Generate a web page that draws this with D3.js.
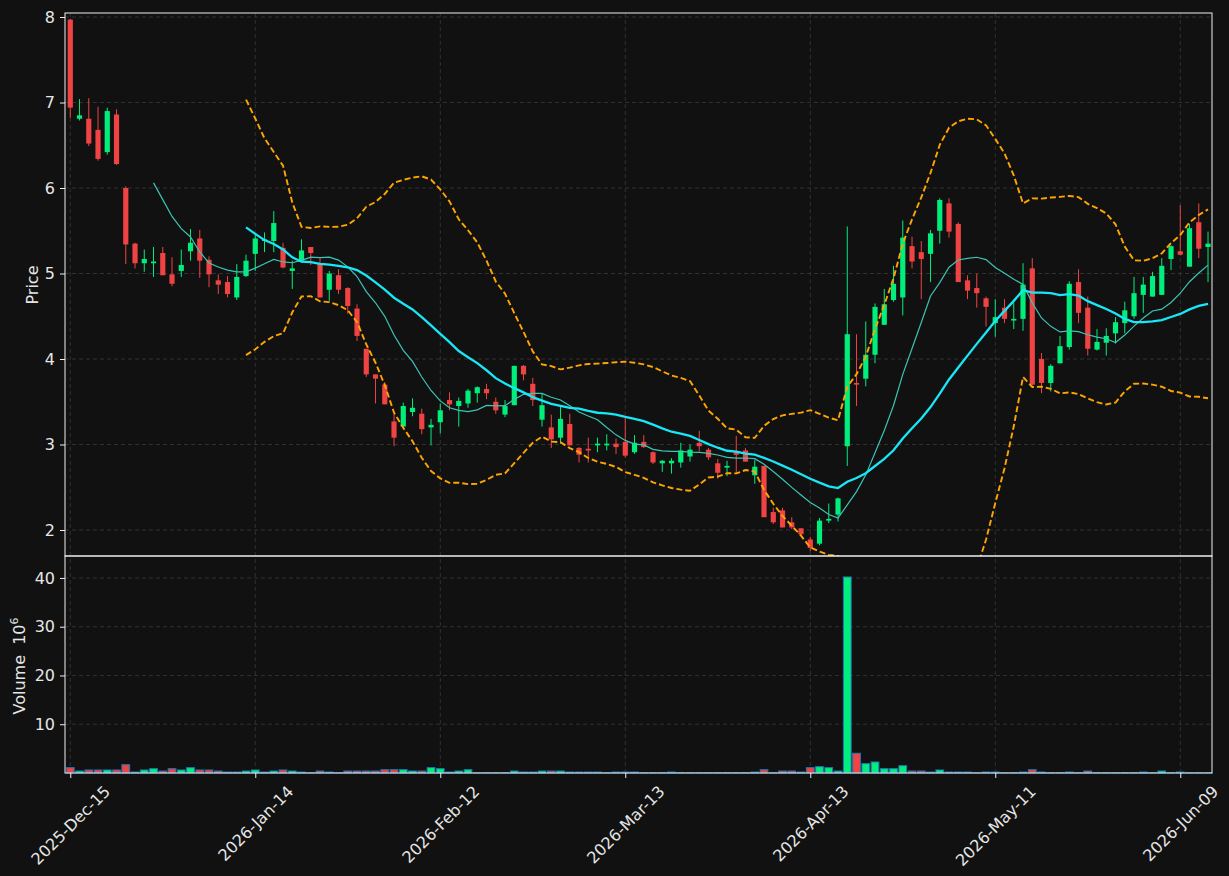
<!DOCTYPE html>
<html>
<head>
<meta charset="utf-8">
<script src="https://cdn.jsdelivr.net/npm/d3@7"></script>
<style>
  body { margin: 0; background: #111111; }
  text { font-family: "DejaVu Sans", sans-serif; fill: #e6e6e6; }
</style>
</head>
<body>
<svg id="chart"></svg>
<script>
// OHLC + volume (volume in millions), one entry per trading day
const opens = [7.97,6.81,6.81,6.68,6.42,6.86,6.00,5.35,5.12,5.12,5.24,4.99,5.03,5.26,5.41,5.16,4.92,4.90,4.72,4.97,
  5.23,5.38,5.38,5.30,5.03,5.15,5.31,5.11,4.81,4.98,4.83,4.59,4.12,3.82,3.70,3.27,3.21,3.38,3.36,3.20,
  3.26,3.52,3.45,3.48,3.60,3.65,3.50,3.35,3.46,3.92,3.71,3.29,3.20,3.08,3.24,2.96,2.95,2.99,2.99,3.01,
  3.03,2.91,3.03,2.91,2.78,2.78,2.79,2.86,3.02,2.94,2.78,2.73,2.91,2.93,2.64,2.75,2.21,2.23,2.09,2.02,
  1.89,1.84,2.11,2.18,2.98,3.72,3.77,4.05,4.40,4.69,4.72,5.32,5.25,5.23,5.50,5.82,5.58,4.92,4.83,4.71,
  4.42,4.60,4.45,4.47,5.06,4.00,3.72,3.95,4.14,4.90,4.60,4.11,4.19,4.30,4.42,4.50,4.75,4.73,4.75,5.17,
  5.26,5.08,5.60,5.31];
const highs = [7.98,7.04,7.05,6.95,6.94,6.92,6.02,5.36,5.28,5.31,5.31,5.19,5.28,5.52,5.51,5.20,4.99,4.97,5.11,5.22,
  5.47,5.48,5.73,5.36,5.15,5.40,5.31,5.18,5.03,5.05,4.84,4.64,4.12,3.82,3.73,3.36,3.49,3.54,3.42,3.30,
  3.48,3.61,3.55,3.65,3.68,3.71,3.55,3.52,3.92,3.93,3.78,3.60,3.35,3.44,3.36,2.97,3.08,3.08,3.12,3.07,
  3.31,3.11,3.11,2.92,2.82,2.84,3.02,3.00,3.16,2.96,2.83,2.81,3.10,2.96,2.82,2.75,2.26,2.26,2.15,2.02,
  1.92,2.14,2.31,2.38,5.55,4.29,4.44,4.65,4.82,5.09,5.62,5.43,5.38,5.51,5.88,5.88,5.60,4.98,5.00,4.73,
  4.70,4.70,4.66,5.12,5.18,4.07,3.94,4.27,4.91,5.05,4.73,4.35,4.36,4.49,4.67,4.96,4.96,5.02,5.18,5.33,
  5.80,5.58,5.82,5.49];
const lows = [6.82,6.79,6.49,6.32,6.39,6.27,5.11,5.06,5.02,4.96,4.98,4.85,4.96,5.15,4.95,4.84,4.76,4.72,4.69,4.96,
  5.03,5.25,5.25,5.06,4.82,5.13,5.10,4.72,4.68,4.76,4.53,4.21,3.79,3.48,3.47,2.98,3.20,3.33,3.12,2.99,
  3.13,3.40,3.21,3.43,3.49,3.53,3.36,3.32,3.46,3.75,3.45,3.21,2.96,3.01,2.99,2.79,2.79,2.91,2.93,2.89,
  2.85,2.89,2.96,2.77,2.68,2.66,2.73,2.80,2.92,2.82,2.60,2.63,2.67,2.80,2.54,2.15,2.07,2.03,2.01,1.95,
  1.75,1.82,2.08,2.10,2.75,3.45,3.68,3.95,4.40,4.67,4.51,5.06,4.70,4.90,5.35,5.42,4.90,4.70,4.60,4.38,
  4.26,4.42,4.35,4.33,3.69,3.60,3.62,3.95,4.11,4.42,4.04,4.10,4.04,4.18,4.30,4.47,4.54,4.73,4.75,5.04,
  5.21,5.08,5.18,4.90];
const closes = [6.94,6.85,6.52,6.34,6.90,6.28,5.34,5.12,5.17,5.14,4.98,4.88,5.10,5.36,5.15,4.99,4.87,4.76,4.96,5.15,
  5.41,5.40,5.59,5.07,5.06,5.27,5.24,4.72,5.00,4.81,4.62,4.27,3.82,3.77,3.47,3.08,3.45,3.43,3.18,3.23,
  3.40,3.47,3.51,3.63,3.67,3.60,3.40,3.45,3.92,3.82,3.52,3.46,3.06,3.30,2.99,2.88,2.93,3.01,3.01,2.97,
  2.87,3.02,2.97,2.79,2.81,2.81,2.93,2.94,2.98,2.85,2.67,2.75,2.88,2.80,2.74,2.15,2.09,2.03,2.03,1.95,
  1.79,2.11,2.13,2.37,4.29,3.70,4.05,4.61,4.64,4.88,5.42,5.14,5.17,5.47,5.86,5.49,4.90,4.80,4.77,4.61,
  4.49,4.47,4.47,4.87,3.70,3.72,3.92,4.15,4.88,4.54,4.12,4.20,4.27,4.43,4.57,4.77,4.87,4.97,5.09,5.32,
  5.22,5.53,5.29,5.35];
const volumes = [1.1,0.41,0.62,0.62,0.62,0.62,1.71,0.2,0.62,0.89,0.41,0.89,0.62,1.1,0.62,0.62,0.41,0.2,0.2,0.41,
  0.62,0.2,0.41,0.62,0.41,0.2,0.05,0.41,0.2,0.05,0.41,0.41,0.41,0.41,0.68,0.68,0.68,0.41,0.41,1.1,
  0.89,0.2,0.41,0.68,0.05,0.05,0.05,0.05,0.41,0.2,0.2,0.41,0.41,0.41,0.2,0.2,0.2,0.2,0.05,0.2,
  0.2,0.2,0.05,0.05,0.05,0.2,0.05,0.05,0.05,0.05,0.05,0.05,0.05,0.05,0.2,0.68,0.05,0.41,0.41,0.2,
  1.1,1.3,1.1,0.41,40.2,4.05,1.92,2.26,0.89,0.89,1.5,0.41,0.41,0.2,0.62,0.2,0.2,0.2,0.05,0.2,
  0.2,0.05,0.05,0.2,0.68,0.2,0.05,0.05,0.2,0.05,0.41,0.05,0.05,0.05,0.05,0.05,0.2,0.05,0.41,0.05,
  0.2,0.05,0.05,0.05];

const tickIdx = [0, 20, 40, 60, 80, 100, 120];
const tickLabels = ["2025-Dec-15", "2026-Jan-14", "2026-Feb-12", "2026-Mar-13", "2026-Apr-13", "2026-May-11", "2026-Jun-09"];
const priceTicks = [2, 3, 4, 5, 6, 7, 8];
const volTicks = [10, 20, 30, 40];

// Layout
const width = 1229, height = 876;
const plot = {left: 65, right: 1212, top: 13, split: 556, bottom: 773};
const upColor = "#00ee7c", downColor = "#f04343";
const fontSize = 16;

const svg = d3.select("#chart")
    .attr("width", width)
    .attr("height", height)
    .style("background", "#111111");

const n = closes.length;
const x = d3.scaleLinear().domain([-0.57, n - 0.57]).range([plot.left, plot.right]);
const yP = d3.scaleLinear().domain([1.696, 8.047]).range([plot.split, plot.top]);
const yV = d3.scaleLinear().domain([0, 44.5]).range([plot.bottom, plot.split]);
const step = x(1) - x(0);

svg.append("defs").append("clipPath").attr("id", "clipPrice")
  .append("rect")
    .attr("x", plot.left).attr("y", plot.top)
    .attr("width", plot.right - plot.left).attr("height", plot.split - plot.top);

// Grid
const grid = svg.append("g")
    .attr("stroke", "#3a3a3a")
    .attr("stroke-width", 0.8)
    .attr("stroke-dasharray", "4,3");
grid.selectAll(".vg").data(tickIdx).enter().append("line")
    .attr("x1", d => x(d)).attr("x2", d => x(d))
    .attr("y1", plot.top).attr("y2", plot.bottom);
grid.selectAll(".pg").data(priceTicks).enter().append("line")
    .attr("x1", plot.left).attr("x2", plot.right)
    .attr("y1", d => yP(d)).attr("y2", d => yP(d));
grid.selectAll(".vgy").data(volTicks).enter().append("line")
    .attr("x1", plot.left).attr("x2", plot.right)
    .attr("y1", d => yV(d)).attr("y2", d => yV(d));

// Candles
const idx = d3.range(n);
const up = i => closes[i] >= opens[i];
const candles = svg.append("g").attr("clip-path", "url(#clipPrice)");
candles.selectAll(".wick").data(idx).enter().append("line")
    .attr("x1", i => x(i)).attr("x2", i => x(i))
    .attr("y1", i => yP(highs[i])).attr("y2", i => yP(lows[i]))
    .attr("stroke", i => up(i) ? upColor : downColor)
    .attr("stroke-width", 1);
candles.selectAll(".body").data(idx).enter().append("rect")
    .attr("x", i => x(i) - step * 0.28)
    .attr("width", step * 0.56)
    .attr("y", i => yP(Math.max(opens[i], closes[i])))
    .attr("height", i => Math.max(1, Math.abs(yP(opens[i]) - yP(closes[i]))))
    .attr("fill", i => up(i) ? upColor : downColor);

// Moving averages and Bollinger bands from closes
function rolling(win, fn) {
  return idx.filter(i => i >= win - 1).map(i => {
    const w = closes.slice(i - win + 1, i + 1);
    return [i, fn(w)];
  });
}
const ma10 = rolling(10, w => d3.mean(w));
const ma20 = rolling(20, w => d3.mean(w));
const sd = w => { const m = d3.mean(w); return Math.sqrt(d3.mean(w, v => (v - m) * (v - m))); };
const bbUp = rolling(20, w => d3.mean(w) + 2 * sd(w));
const bbLo = rolling(20, w => d3.mean(w) - 2 * sd(w));

const line = d3.line().x(d => x(d[0])).y(d => yP(d[1]));
const lines = svg.append("g").attr("clip-path", "url(#clipPrice)").attr("fill", "none");
lines.append("path").attr("d", line(bbUp))
    .attr("stroke", "#ffa500").attr("stroke-width", 1.9).attr("stroke-dasharray", "6,3");
lines.append("path").attr("d", line(bbLo))
    .attr("stroke", "#ffa500").attr("stroke-width", 1.9).attr("stroke-dasharray", "6,3");
lines.append("path").attr("d", line(ma10))
    .attr("stroke", "#3cc4b4").attr("stroke-width", 1.2);
lines.append("path").attr("d", line(ma20))
    .attr("stroke", "#19e6f7").attr("stroke-width", 2.3);

// Volume bars
svg.append("g").selectAll("rect").data(idx).enter().append("rect")
    .attr("x", i => x(i) - step * 0.42)
    .attr("width", step * 0.84)
    .attr("y", i => yV(volumes[i]))
    .attr("height", i => yV(0) - yV(volumes[i]))
    .attr("fill", i => up(i) ? upColor : downColor)
    .attr("stroke", "#1f77b4")
    .attr("stroke-width", 1);

// Frames
const frame = svg.append("g").attr("fill", "none").attr("stroke", "#f0f0f0").attr("stroke-width", 1);
frame.append("rect").attr("x", plot.left).attr("y", plot.top)
    .attr("width", plot.right - plot.left).attr("height", plot.split - plot.top);
frame.append("rect").attr("x", plot.left).attr("y", plot.split)
    .attr("width", plot.right - plot.left).attr("height", plot.bottom - plot.split);

// Axes
const axPrice = svg.append("g").attr("transform", `translate(${plot.left},0)`)
    .call(d3.axisLeft(yP).tickValues(priceTicks).tickFormat(d3.format("d")).tickSize(5).tickPadding(5));
const axVol = svg.append("g").attr("transform", `translate(${plot.left},0)`)
    .call(d3.axisLeft(yV).tickValues(volTicks).tickFormat(d3.format("d")).tickSize(5).tickPadding(5));
const axX = svg.append("g").attr("transform", `translate(0,${plot.bottom})`)
    .call(d3.axisBottom(x).tickValues(tickIdx).tickFormat((d, i) => tickLabels[i]).tickSize(5));
[axPrice, axVol, axX].forEach(a => {
  a.select(".domain").remove();
  a.selectAll("line").attr("stroke", "#f0f0f0");
  a.selectAll("text").attr("font-size", fontSize).attr("fill", "#e6e6e6").style("font-family", "DejaVu Sans");
});

// Rotated date labels, centred under the tick
axX.selectAll("text")
    .attr("y", null).attr("dy", null)
    .attr("text-anchor", "middle")
    .attr("dominant-baseline", "central")
    .attr("transform", function() {
      const w = this.getComputedTextLength();
      const off = 10 + (w + fontSize) / (2 * Math.SQRT2);
      return `translate(0,${off}) rotate(-45)`;
    });

// Axis titles
svg.append("text")
    .attr("text-anchor", "middle")
    .attr("transform", `translate(38, 285) rotate(-90)`)
    .attr("font-size", fontSize)
    .text("Price");

const vl = svg.append("text")
    .attr("text-anchor", "middle")
    .attr("transform", `translate(25, 666) rotate(-90)`)
    .attr("font-size", fontSize);
vl.append("tspan").text("Volume\u00a0\u00a010");
vl.append("tspan").attr("dy", -7).attr("font-size", 11).text("6");
</script>
</body>
</html>
